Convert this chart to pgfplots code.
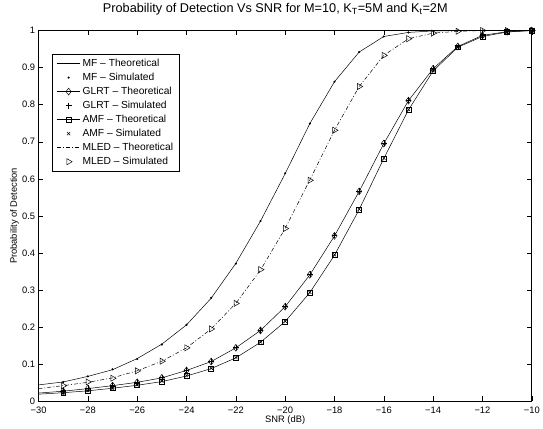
\documentclass[border=0pt]{standalone}
\usepackage{fontspec}
\setmainfont{Liberation Sans}
\usepackage{pgfplots}
\pgfplotsset{compat=1.18}
\pgfplotsset{leg/.style={legend image code/.code={\draw[##1,mark repeat=2,mark phase=2] plot coordinates {(0cm,0cm) (0.42cm,0cm) (0.84cm,0cm)};}}}
\begin{document}
\begin{tikzpicture}
\begin{axis}[
  scale only axis, width=499bp, height=375bp,
  xmin=-30, xmax=-10, ymin=0, ymax=1,
  xtick={-30,-28,-26,-24,-22,-20,-18,-16,-14,-12,-10},
  xticklabels={−30,−28,−26,−24,−22,−20,−18,−16,−14,−12,−10},
  ytick={0,0.1,0.2,0.3,0.4,0.5,0.6,0.7,0.8,0.9,1},
  yticklabels={0,0.1,0.2,0.3,0.4,0.5,0.6,0.7,0.8,0.9,1},
  tick align=inside, tick pos=both, major tick length=5bp,
  axis line style={line width=0.8pt},
  tick style={line width=0.5pt, black},
  tick label style={font=\fontsize{9.5}{11}\selectfont},
  xticklabel style={yshift=-2bp},
  label style={font=\fontsize{9.5}{11}\selectfont},
  title style={font=\fontsize{12.9}{15}\selectfont, at={(0.5,1)}, anchor=base, yshift=12.3bp, xshift=-10bp},
  title={Probability of Detection Vs SNR for M=10, K\textsubscript{T}=5M and K\textsubscript{t}=2M},
  xlabel={SNR (dB)}, ylabel={Probability of Detection},
  xlabel style={at={(0.5,0)}, anchor=base, yshift=-22bp},
  ylabel style={at={(0,0.5)}, anchor=base, yshift=22bp},
  every axis plot/.append style={line width=0.5pt, black, mark size=3pt},
  legend style={at={(0.028,0.937)}, anchor=north west, draw=black, line width=0.6pt,
    font=\fontsize{10.4}{12}\selectfont, cells={anchor=west}, row sep=1.2bp,
    inner xsep=4bp, inner ysep=3bp},
]
% MF theoretical
\addplot[solid, leg] coordinates {(-30,0.044)(-29,0.052)(-28,0.067)(-27,0.085)(-26,0.115)(-25,0.154)(-24,0.206)(-23,0.278)(-22,0.372)(-21,0.486)(-20,0.614)(-19,0.749)(-18,0.862)(-17,0.942)(-16,0.984)(-15,0.995)(-14,0.999)(-13,1)(-12,1)(-11,1)(-10,1)};
\addlegendentry{MF -- Theoretical}
% MF simulated
\addplot[only marks, mark=*, mark size=0.8pt, leg] coordinates {(-29,0.052)(-28,0.067)(-27,0.086)(-26,0.114)(-25,0.153)(-24,0.206)(-23,0.279)(-22,0.371)(-21,0.486)(-20,0.615)(-19,0.749)(-18,0.862)(-17,0.942)(-16,0.984)(-15,0.995)(-14,0.999)(-13,1)(-12,1)(-11,1)(-10,1)};
\addlegendentry{MF -- Simulated}
% GLRT theoretical
\addplot[solid, mark=diamond, mark size=3.5pt, mark repeat=1, mark phase=2, leg] coordinates {(-30,0.022)(-29,0.027)(-28,0.034)(-27,0.042)(-26,0.051)(-25,0.063)(-24,0.083)(-23,0.107)(-22,0.144)(-21,0.191)(-20,0.255)(-19,0.341)(-18,0.446)(-17,0.566)(-16,0.695)(-15,0.811)(-14,0.897)(-13,0.957)(-12,0.987)(-11,0.997)(-10,1)};
\addlegendentry{GLRT -- Theoretical}
% GLRT simulated
\addplot[only marks, mark=+, mark size=3pt, leg] coordinates {(-29,0.028)(-28,0.035)(-27,0.043)(-26,0.052)(-25,0.064)(-24,0.084)(-23,0.108)(-22,0.145)(-21,0.192)(-20,0.256)(-19,0.342)(-18,0.447)(-17,0.567)(-16,0.696)(-15,0.812)(-14,0.898)(-13,0.957)(-12,0.987)(-11,0.997)(-10,1)};
\addlegendentry{GLRT -- Simulated}
% AMF theoretical
\addplot[solid, mark=square, mark size=2.5pt, mark repeat=1, mark phase=2, leg] coordinates {(-30,0.019)(-29,0.023)(-28,0.028)(-27,0.035)(-26,0.043)(-25,0.053)(-24,0.068)(-23,0.088)(-22,0.117)(-21,0.159)(-20,0.215)(-19,0.293)(-18,0.394)(-17,0.517)(-16,0.655)(-15,0.786)(-14,0.891)(-13,0.955)(-12,0.984)(-11,0.996)(-10,1)};
\addlegendentry{AMF -- Theoretical}
% AMF simulated
\addplot[only marks, mark=x, mark size=2.3pt, leg] coordinates {(-29,0.023)(-28,0.029)(-27,0.035)(-26,0.044)(-25,0.054)(-24,0.069)(-23,0.089)(-22,0.118)(-21,0.160)(-20,0.216)(-19,0.294)(-18,0.395)(-17,0.518)(-16,0.656)(-15,0.787)(-14,0.892)(-13,0.956)(-12,0.985)(-11,0.996)(-10,1)};
\addlegendentry{AMF -- Simulated}
% MLED theoretical
\addplot[dash pattern=on 4bp off 2bp on 1bp off 2bp, leg] coordinates {(-30,0.034)(-29,0.042)(-28,0.051)(-27,0.063)(-26,0.082)(-25,0.108)(-24,0.144)(-23,0.195)(-22,0.264)(-21,0.354)(-20,0.466)(-19,0.597)(-18,0.731)(-17,0.849)(-16,0.933)(-15,0.978)(-14,0.993)(-13,0.998)(-12,1)(-11,1)(-10,1)};
\addlegendentry{MLED -- Theoretical}
% MLED simulated
\addplot[only marks, mark=triangle, mark size=3.6pt, mark options={rotate=-90}, leg] coordinates {(-29,0.042)(-28,0.052)(-27,0.062)(-26,0.082)(-25,0.108)(-24,0.144)(-23,0.195)(-22,0.264)(-21,0.355)(-20,0.466)(-19,0.596)(-18,0.731)(-17,0.849)(-16,0.933)(-15,0.978)(-14,0.993)(-13,0.998)(-12,1)(-11,1)(-10,1)};
\addlegendentry{MLED -- Simulated}
\coordinate (ll) at (rel axis cs:0,0);
\coordinate (ur) at (rel axis cs:1,1);
\end{axis}
\path (ll) ++(-39bp,-28bp);
\path (ur) ++(5bp,29bp);
\end{tikzpicture}
\end{document}
